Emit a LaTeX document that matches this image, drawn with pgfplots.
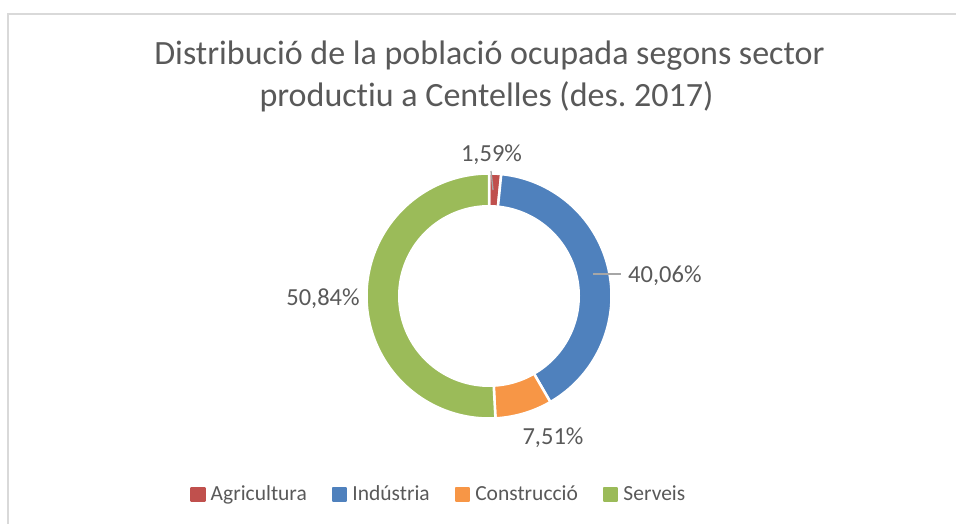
\documentclass[border=0pt]{standalone}
\usepackage{pgfplots}
\pgfplotsset{compat=1.18}
\usepackage{pgfplotstable}
\usepackage{fontspec}
\setmainfont{Carlito}[Ligatures={NoCommon}]
\frenchspacing
\definecolor{agri}{HTML}{C0504D}
\definecolor{indu}{HTML}{4F81BD}
\definecolor{cons}{HTML}{F79646}
\definecolor{serv}{HTML}{9BBB59}
\definecolor{txt}{HTML}{595959}
\definecolor{framec}{HTML}{D9D9D9}
\definecolor{lead}{HTML}{A6A6A6}

\pgfplotstableread{
sector value
Agricultura 1.59
Industria 40.06
Construccio 7.51
Serveis 50.84
}\shares

\begin{document}%
\begin{tikzpicture}
\pgfplotstablegetelem{0}{value}\of\shares \let\vA\pgfplotsretval
\pgfplotstablegetelem{1}{value}\of\shares \let\vB\pgfplotsretval
\pgfplotstablegetelem{2}{value}\of\shares \let\vC\pgfplotsretval
\pgfplotstablegetelem{3}{value}\of\shares \let\vD\pgfplotsretval
\pgfmathsetmacro\aZero{90}
\pgfmathsetmacro\aOne{\aZero-3.6*\vA}
\pgfmathsetmacro\aTwo{\aOne-3.6*\vB}
\pgfmathsetmacro\aThree{\aTwo-3.6*\vC}
\pgfmathsetmacro\aFour{\aThree-3.6*\vD}
\def\cx{489}\def\cy{228}\def\R{122.5}\def\r{91}
\begin{axis}[
  scale only axis, width=956pt, height=524pt,
  xmin=0, xmax=956, ymin=0, ymax=524,
  hide axis,
  legend columns=4,
  legend style={at={(axis cs:190,30)}, anchor=west, draw=none, fill=none,
    inner sep=0pt, font=\fontsize{21.5}{25}\selectfont, text=txt,
    nodes={inner sep=1pt},
    /tikz/every odd column/.append style={column sep=4pt},
    /tikz/every even column/.append style={column sep=24pt}},
]
\addplot[fill=agri, draw=white, line width=2.5pt, line join=round,
  domain=\aOne:\aZero, samples=20, variable=\t,
  legend image code/.code={\fill[agri] (0pt,-7pt) rectangle (13pt,6pt);}]
  ({\cx+\R*cos(\t)},{\cy+\R*sin(\t)}) -- (axis cs:\cx,\cy) -- cycle;
\addlegendentry{Agricultura}
\addplot[fill=indu, draw=white, line width=2.5pt, line join=round,
  domain=\aTwo:\aOne, samples=80, variable=\t,
  legend image code/.code={\fill[indu] (0pt,-7pt) rectangle (13pt,6pt);}]
  ({\cx+\R*cos(\t)},{\cy+\R*sin(\t)}) -- (axis cs:\cx,\cy) -- cycle;
\addlegendentry{Indústria}
\addplot[fill=cons, draw=white, line width=2.5pt, line join=round,
  domain=\aThree:\aTwo, samples=30, variable=\t,
  legend image code/.code={\fill[cons] (0pt,-7pt) rectangle (13pt,6pt);}]
  ({\cx+\R*cos(\t)},{\cy+\R*sin(\t)}) -- (axis cs:\cx,\cy) -- cycle;
\addlegendentry{Construcció}
\addplot[fill=serv, draw=white, line width=2.5pt, line join=round,
  domain=\aFour:\aThree, samples=100, variable=\t,
  legend image code/.code={\fill[serv] (0pt,-7pt) rectangle (13pt,6pt);}]
  ({\cx+\R*cos(\t)},{\cy+\R*sin(\t)}) -- (axis cs:\cx,\cy) -- cycle;
\addlegendentry{Serveis}
% hole
\addplot[fill=white, draw=none, domain=0:360, samples=150, variable=\t, forget plot]
  ({\cx+\r*cos(\t)},{\cy+\r*sin(\t)}) -- cycle;
% leader lines
\addplot[lead, line width=1.3pt, forget plot] coordinates {(491,353) (493,334)};
\addplot[lead, line width=1.3pt, forget plot] coordinates {(593,250) (621,250)};
% frame
\addplot[framec, line width=2.2pt, forget plot] coordinates {(8,-5) (8,510) (970,510)};
% labels
\node[anchor=base, text=txt, font=\fontsize{24.5}{28}\selectfont, inner sep=0pt] at (axis cs:491.5,362) {1,59\%};
\node[anchor=base west, text=txt, font=\fontsize{24.5}{28}\selectfont, inner sep=0pt] at (axis cs:628,241) {40,06\%};
\node[anchor=base, text=txt, font=\fontsize{24.5}{28}\selectfont, inner sep=0pt] at (axis cs:323,218) {50,84\%};
\node[anchor=base, text=txt, font=\fontsize{24.5}{28}\selectfont, inner sep=0pt] at (axis cs:553,79) {7,51\%};
% title
\node[anchor=base, text=txt, font=\fontsize{34}{40}\selectfont, inner sep=0pt] at (axis cs:489.5,459) {Distribució de la població ocupada segons sector};
\node[anchor=base, text=txt, font=\fontsize{34}{40}\selectfont, inner sep=0pt] at (axis cs:486.5,417) {productiu a Centelles (des. 2017)};
\end{axis}
\pgfresetboundingbox
\path[use as bounding box] (current axis.south west) rectangle (current axis.north east);
\end{tikzpicture}%
\end{document}
